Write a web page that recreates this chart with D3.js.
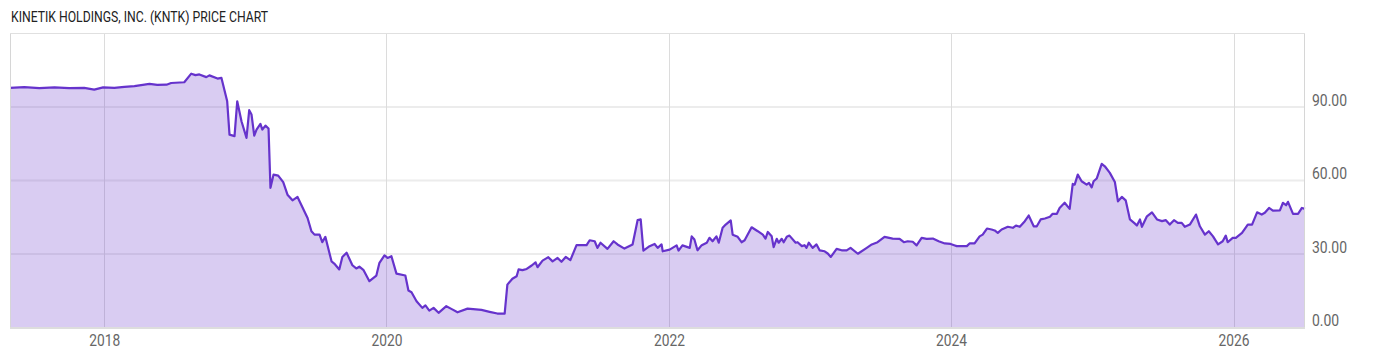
<!DOCTYPE html>
<html>
<head>
<meta charset="utf-8">
<script src="https://cdn.jsdelivr.net/npm/d3@7"></script>
<style>
  html, body { margin: 0; padding: 0; background: #fff; }
  svg { display: block; }
  text { font-family: Roboto, "Noto Sans", sans-serif; }
</style>
</head>
<body>
<svg id="chart" width="1400" height="357"></svg>
<script>
const title = "KINETIK HOLDINGS, INC. (KNTK) PRICE CHART";

const dates = [
"2017-05-02","2017-06-08","2017-07-17","2017-08-25","2017-10-02","2017-11-10","2017-12-06","2017-12-29",
"2018-01-27","2018-02-22","2018-03-20","2018-04-15","2018-04-28","2018-05-18","2018-06-11","2018-06-23",
"2018-07-27","2018-08-14","2018-08-25","2018-09-04","2018-09-22","2018-09-30","2018-10-21","2018-10-31",
"2018-11-15","2018-11-21","2018-12-04","2018-12-11","2018-12-22","2019-01-04","2019-01-11","2019-01-17",
"2019-01-24","2019-01-30","2019-02-09","2019-02-14","2019-02-22","2019-03-02","2019-03-07","2019-03-15",
"2019-03-27","2019-04-09","2019-04-20","2019-05-03","2019-05-16","2019-05-29","2019-06-11","2019-06-21",
"2019-06-29","2019-07-12","2019-07-19","2019-07-27","2019-08-12","2019-08-19","2019-09-01","2019-09-09",
"2019-09-20","2019-10-05","2019-10-15","2019-10-23","2019-11-03","2019-11-18","2019-12-06","2019-12-14",
"2019-12-27","2020-01-04","2020-01-14","2020-01-27","2020-02-19","2020-02-27","2020-03-06","2020-03-19",
"2020-04-03","2020-04-11","2020-04-21","2020-05-02","2020-05-15","2020-06-04","2020-06-17","2020-07-03",
"2020-07-29","2020-09-03","2020-09-24","2020-10-14","2020-11-02","2020-11-09","2020-11-22","2020-12-03",
"2020-12-08","2020-12-18","2020-12-29","2021-01-11","2021-01-21","2021-01-26","2021-02-08","2021-02-23",
"2021-03-06","2021-03-19","2021-03-29","2021-04-09","2021-04-21","2021-05-07","2021-06-02","2021-06-10",
"2021-06-23","2021-06-30","2021-07-08","2021-07-26","2021-08-11","2021-08-21","2021-09-08","2021-09-29",
"2021-10-12","2021-10-20","2021-10-27","2021-11-12","2021-11-25","2021-12-03","2021-12-13","2021-12-16",
"2022-01-03","2022-01-21","2022-01-26","2022-02-05","2022-02-24","2022-03-01","2022-03-08","2022-03-16",
"2022-03-27","2022-04-09","2022-04-16","2022-04-24","2022-05-04","2022-05-10","2022-05-20","2022-05-28",
"2022-06-10","2022-06-15","2022-06-28","2022-07-08","2022-07-16","2022-08-03","2022-08-19","2022-09-01",
"2022-09-08","2022-09-14","2022-09-24","2022-09-29","2022-10-07","2022-10-12","2022-10-20","2022-10-25",
"2022-11-02","2022-11-09","2022-11-25","2022-11-30","2022-12-11","2022-12-18","2022-12-23","2022-12-29",
"2023-01-08","2023-01-18","2023-01-26","2023-02-08","2023-02-16","2023-02-24","2023-03-11","2023-03-24",
"2023-04-06","2023-04-16","2023-05-05","2023-05-28","2023-06-10","2023-06-25","2023-07-13","2023-08-03",
"2023-08-21","2023-09-01","2023-09-11","2023-09-24","2023-10-04","2023-10-17","2023-10-30","2023-11-15",
"2023-11-30","2023-12-16","2023-12-31","2024-01-11","2024-01-16","2024-02-11","2024-02-18","2024-03-02",
"2024-03-15","2024-03-23","2024-04-03","2024-04-15","2024-04-23","2024-05-01","2024-05-11","2024-05-27",
"2024-06-09","2024-06-17","2024-06-27","2024-07-10","2024-07-20","2024-08-02","2024-08-10","2024-08-20",
"2024-08-31","2024-09-13","2024-09-20","2024-10-01","2024-10-08","2024-10-21","2024-11-03","2024-11-11",
"2024-11-16","2024-11-24","2024-12-04","2024-12-17","2024-12-23","2024-12-30","2025-01-04","2025-01-12",
"2025-01-25","2025-02-02","2025-02-15","2025-02-28","2025-03-08","2025-03-18","2025-03-28","2025-04-08",
"2025-04-21","2025-04-26","2025-05-04","2025-05-09","2025-05-22","2025-06-04","2025-06-17","2025-06-30",
"2025-07-10","2025-07-20","2025-07-31","2025-08-10","2025-08-20","2025-08-28","2025-09-10","2025-09-26",
"2025-10-06","2025-10-19","2025-10-29","2025-11-09","2025-11-22","2025-12-04","2025-12-12","2025-12-17",
"2025-12-30","2026-01-07","2026-01-23","2026-02-07","2026-02-18","2026-03-03","2026-03-15","2026-03-23",
"2026-04-03","2026-04-13","2026-05-01","2026-05-09","2026-05-17","2026-05-22","2026-06-04","2026-06-17",
"2026-06-27","2026-07-05"
];

const closes = [
97.6,97.9,97.5,97.8,97.5,97.6,96.9,97.8,
97.6,98.0,98.3,98.9,99.2,98.8,98.9,99.6,
99.9,103.4,102.8,103.1,102.0,102.7,101.4,101.7,
92.1,78.5,77.9,92.1,84.0,77.2,88.5,86.7,
78.1,80.6,82.9,80.6,82.2,81.0,56.8,62.2,
61.8,59.1,54.0,51.7,53.1,48.8,44.5,39.1,
37.7,37.7,34.6,36.8,26.8,25.9,23.5,28.6,
30.3,25.2,23.9,24.6,23.2,18.7,21.0,26.2,
29.2,28.2,28.9,21.8,21.0,14.9,14.2,10.5,
7.8,8.8,6.7,7.8,5.8,8.5,7.4,6.0,
7.5,7.0,6.2,5.5,5.5,17.3,19.7,20.7,
23.5,23.2,23.7,25.1,26.4,24.4,27.1,28.5,
26.8,28.2,26.6,28.6,27.3,33.4,33.4,35.4,
35.0,32.3,34.4,31.9,35.0,33.7,32.0,33.7,
43.6,43.9,31.2,33.0,33.9,32.3,33.7,30.9,
31.6,33.3,31.2,33.3,32.3,37.0,35.7,31.3,
33.4,34.4,36.4,35.0,37.0,34.4,40.5,41.8,
43.5,37.7,36.8,34.6,35.4,40.7,39.1,37.7,
36.1,38.8,37.0,32.6,36.0,34.4,36.0,34.6,
36.8,37.3,34.4,34.6,33.0,33.4,32.3,34.4,
32.3,33.7,31.3,30.9,30.0,28.6,31.9,31.3,
31.3,32.3,29.9,32.3,33.7,34.6,36.8,36.1,
36.0,34.6,35.0,34.8,33.3,36.4,36.0,36.1,
35.0,34.1,33.9,33.3,33.0,33.0,34.1,34.1,
37.0,37.7,40.2,39.8,39.4,38.4,39.8,40.9,
40.5,41.4,40.9,43.2,45.5,41.1,41.1,43.9,
44.3,45.0,46.2,46.2,48.6,50.7,48.2,58.4,
58.1,62.2,59.5,58.1,58.8,57.0,59.5,60.6,
66.6,65.6,62.9,59.2,51.3,53.1,51.7,43.9,
42.2,41.4,43.9,40.9,45.2,46.8,43.9,43.2,
43.6,41.8,43.6,42.5,42.5,40.9,41.8,45.9,
41.1,37.7,39.1,37.0,33.7,35.0,37.3,34.6,
36.4,36.4,38.4,41.8,41.8,46.8,45.9,46.6,
48.6,47.5,47.6,50.7,49.7,51.1,46.2,46.2,
48.6,48.2
];

const yTicks = [0, 30, 60, 90];
const xTickYears = [2018, 2020, 2022, 2024, 2026];

const parse = d3.timeParse("%Y-%m-%d");
const data = dates.map((d, i) => ({ date: parse(d), value: closes[i] }));

const svg = d3.select("#chart");
const plotL = 10, plotR = 1305, plotT = 33, plotB = 327;

const x = d3.scaleTime().domain(d3.extent(data, d => d.date)).range([plotL, plotR]);
const y = d3.scaleLinear().domain([0, 120]).range([plotB, plotT]);

const lineColor = "#6633cc";

function condense(sel, factor) {
  sel.each(function() {
    const len = this.getComputedTextLength();
    d3.select(this).attr("textLength", len * factor).attr("lengthAdjust", "spacingAndGlyphs");
  });
}

// Title
svg.append("text")
  .attr("x", 11).attr("y", 22)
  .attr("font-size", 15)
  .attr("fill", "#222")
  .text(title)
  .attr("textLength", 257).attr("lengthAdjust", "spacingAndGlyphs");

// Horizontal grid
svg.append("g").selectAll("line").data(yTicks.filter(t => t > 0)).join("line")
  .attr("x1", plotL).attr("x2", plotR)
  .attr("y1", d => y(d) + 0.5).attr("y2", d => y(d) + 0.5)
  .attr("stroke", "#ececec").attr("stroke-width", 2);

// Vertical grid
const xTicks = xTickYears.map(yr => new Date(yr, 0, 1));
svg.append("g").selectAll("line").data(xTicks).join("line")
  .attr("x1", d => Math.round(x(d)) + 0.5).attr("x2", d => Math.round(x(d)) + 0.5)
  .attr("y1", plotT).attr("y2", plotB)
  .attr("stroke", "#dcdcdc").attr("stroke-width", 1);

// Area
const area = d3.area().x(d => x(d.date)).y0(y(0)).y1(d => y(d.value));
svg.append("path").datum(data)
  .attr("d", area)
  .attr("fill", lineColor).attr("fill-opacity", 0.25);

// Line
const line = d3.line().x(d => x(d.date)).y(d => y(d.value));
svg.append("path").datum(data)
  .attr("d", line)
  .attr("fill", "none").attr("stroke", lineColor).attr("stroke-width", 2.2)
  .attr("stroke-linejoin", "round");

// Frame
svg.append("line").attr("x1", plotL + 0.5).attr("x2", plotL + 0.5).attr("y1", plotT).attr("y2", plotB)
  .attr("stroke", "#d6d6d6");
svg.append("line").attr("x1", plotR - 0.5).attr("x2", plotR - 0.5).attr("y1", plotT).attr("y2", plotB)
  .attr("stroke", "#d6d6d6");
svg.append("line").attr("x1", plotL).attr("x2", plotR).attr("y1", plotT + 0.5).attr("y2", plotT + 0.5)
  .attr("stroke", "#e0e0e0");
svg.append("line").attr("x1", plotL).attr("x2", plotR).attr("y1", plotB + 1).attr("y2", plotB + 1)
  .attr("stroke", "#dddddd").attr("stroke-width", 2);

// Y axis (right)
const yAxis = d3.axisRight(y).tickValues(yTicks).tickFormat(d3.format(".2f")).tickSize(0).tickPadding(0);
const gy = svg.append("g").attr("transform", `translate(${plotR + 7},0)`).call(yAxis);
gy.select(".domain").remove();
gy.selectAll("text")
  .attr("font-size", 17).attr("fill", "#666")
  .attr("font-family", "Roboto, sans-serif")
  .attr("dy", "-0.08em")
  .attr("text-anchor", "start")
  .call(condense, 0.82);

// X axis
const xAxis = d3.axisBottom(x).tickValues(xTicks).tickFormat(d3.timeFormat("%Y")).tickSize(0).tickPadding(0);
const gx = svg.append("g").attr("transform", `translate(0,${plotB})`).call(xAxis);
gx.select(".domain").remove();
gx.selectAll("text")
  .attr("font-size", 17).attr("fill", "#666")
  .attr("font-family", "Roboto, sans-serif")
  .attr("y", 19).attr("dy", 0)
  .call(condense, 0.81);
</script>
</body>
</html>
